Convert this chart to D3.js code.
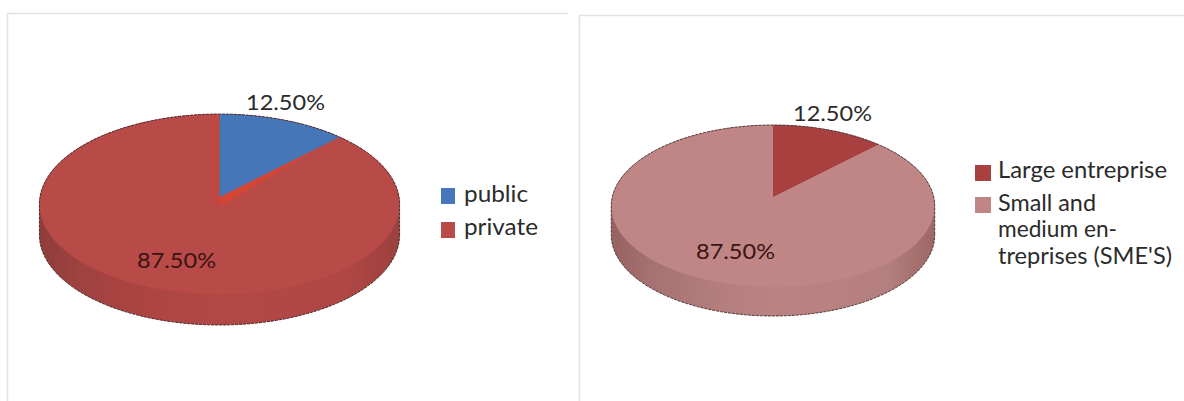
<!DOCTYPE html>
<html>
<head>
<meta charset="utf-8">
<script src="https://cdn.jsdelivr.net/npm/d3@7/dist/d3.min.js"></script>
<style>
  html, body { margin: 0; padding: 0; background: #fff; }
  svg { display: block; }
  text { font-family: Lato, "Open Sans", sans-serif; fill: #2b2b2b; }
</style>
</head>
<body>
<svg id="chart" width="1184" height="401"></svg>
<script>
// Ownership split
const ownershipLabels = ["public", "private"];
const ownershipValues = [12.5, 87.5];
const ownershipColors = ["#4577b8", "#b84a47"];

// Enterprise size split
const sizeLegendLines = [["Large entreprise"], ["Small and", "medium en-", "treprises (SME'S)"]];
const sizeValues = [12.5, 87.5];
const sizeColors = ["#a8403f", "#c08585"];

const svg = d3.select("#chart");
const defs = svg.append("defs");

// Frames around the two panels
const frames = [
  [[7.5, 401], [7.5, 13.5], [568, 13.5]],
  [[579.5, 401], [579.5, 15.5], [1184, 15.5]]
];
svg.selectAll("path.frame").data(frames).join("path")
  .attr("class", "frame")
  .attr("d", d3.line())
  .attr("fill", "none")
  .attr("stroke", "#e2e2e2")
  .attr("stroke-width", 1.5);

// Tilted pie: a unit-circle point goes through a small perspective so the far half is foreshortened.
function drawPie(cfg) {
  const g = svg.append("g");
  const project = (angle, r = 1) => {
    const u = r * Math.sin(angle), v = r * Math.cos(angle);
    const w = 1 + cfg.persp * v;
    return [cfg.cx + cfg.rx * u / w, cfg.apexY - cfg.ry * v / w];
  };
  const circle = d3.range(0, 2 * Math.PI, Math.PI / 180);
  const rim = circle.map(a => project(a));
  const line = d3.line().curve(d3.curveLinearClosed);

  const id = cfg.id + "-side";
  const grad = defs.append("linearGradient").attr("id", id);
  cfg.sideStops.forEach(([o, c]) => grad.append("stop").attr("offset", o).attr("stop-color", c));

  // Side wall: hull of the rim and the rim dropped by the pie's depth
  const hull = d3.polygonHull(rim.concat(rim.map(([x, y]) => [x, y + cfg.depth])));
  g.append("path").attr("d", line(hull)).attr("fill", `url(#${id})`);

  const arcs = d3.pie().sort(null)(cfg.values);
  const small = arcs[0];

  // Full top surface in the large slice's colour
  g.append("path").attr("d", line(rim)).attr("fill", cfg.colors[1]);

  const apex = project(0, 0);
  const start = project(small.startAngle);
  const end = project(small.endAngle);

  // Lit cut faces that show beside the small slice
  if (cfg.cut) {
    g.append("path")
      .attr("d", line([start, [start[0] - 7, start[1]], [apex[0] - 7, apex[1] + 8], [apex[0] + 2, apex[1] + 8]]))
      .attr("fill", cfg.cut).attr("opacity", 0.3);
    g.append("path")
      .attr("d", line([apex, end, [end[0] - 18, end[1] + 9], [apex[0] + 2, apex[1] + 9]]))
      .attr("fill", cfg.cut).attr("opacity", 0.8);
  }

  // Small slice
  const sector = d3.range(small.startAngle, small.endAngle + 1e-6, (small.endAngle - small.startAngle) / 40)
    .map(a => project(a));
  g.append("path").attr("d", line([apex, ...sector])).attr("fill", cfg.colors[0]);

  // Jagged dark outline around the whole solid
  g.append("path").attr("d", line(hull))
    .attr("fill", "none")
    .attr("stroke", cfg.edge)
    .attr("stroke-width", 1)
    .attr("stroke-dasharray", "3 1");

  // Value labels
  g.selectAll("text.value").data(cfg.values).join("text")
    .attr("class", "value")
    .attr("x", (d, i) => cfg.labelPos[i][0])
    .attr("y", (d, i) => cfg.labelPos[i][1])
    .attr("textLength", cfg.labelWidth)
    .attr("lengthAdjust", "spacingAndGlyphs")
    .attr("font-size", 21)
    .style("fill", (d, i) => i ? "#3a1414" : "#2b2b2b")
    .text(d => d.toFixed(2) + "%");

  // Legend
  cfg.legend.forEach((entry, i) => {
    g.append("rect")
      .attr("x", cfg.legendX).attr("y", entry.y)
      .attr("width", cfg.swatch[0]).attr("height", cfg.swatch[1])
      .attr("fill", cfg.colors[i]);
    entry.lines.forEach((t, j) => {
      g.append("text")
        .attr("x", cfg.legendTextX).attr("y", entry.base[j])
        .attr("font-size", cfg.legendSize)
        .attr("textLength", entry.widths[j])
        .attr("lengthAdjust", "spacingAndGlyphs")
        .text(t);
    });
  });
}

drawPie({
  id: "ownership", values: ownershipValues, colors: ownershipColors,
  cx: 219.5, apexY: 197, rx: 179.5, ry: 89.6, persp: 0.08, depth: 30.6,
  edge: "#4a2a2a", cut: "#d9442f",
  sideStops: [[0, "#8f3d3b"], [0.12, "#a04240"], [0.3, "#ac4543"], [0.5, "#b14846"], [0.85, "#b04745"], [1, "#9a413f"]],
  labelPos: [[246, 110], [137, 268]], labelWidth: 79,
  legendX: 441, legendTextX: 464, swatch: [14, 16], legendSize: 23,
  legend: [
    { y: 188, base: [202], lines: [ownershipLabels[0]], widths: [64] },
    { y: 222, base: [235], lines: [ownershipLabels[1]], widths: [74] }
  ]
});

drawPie({
  id: "size", values: sizeValues, colors: sizeColors,
  cx: 773, apexY: 197, rx: 160.7, ry: 80, persp: 0.111, depth: 29,
  edge: "#4e3838", cut: null,
  sideStops: [[0, "#96615f"], [0.12, "#a67171"], [0.3, "#b37c7c"], [0.5, "#bb8282"], [0.85, "#b67f7f"], [1, "#9c6766"]],
  labelPos: [[793, 121], [696, 259]], labelWidth: 79,
  legendX: 975, legendTextX: 998, swatch: [16, 16], legendSize: 23,
  legend: [
    { y: 165, base: [178], lines: sizeLegendLines[0], widths: [169] },
    { y: 197, base: [211, 237, 264], lines: sizeLegendLines[1], widths: [98, 119, 174] }
  ]
});
</script>
</body>
</html>
